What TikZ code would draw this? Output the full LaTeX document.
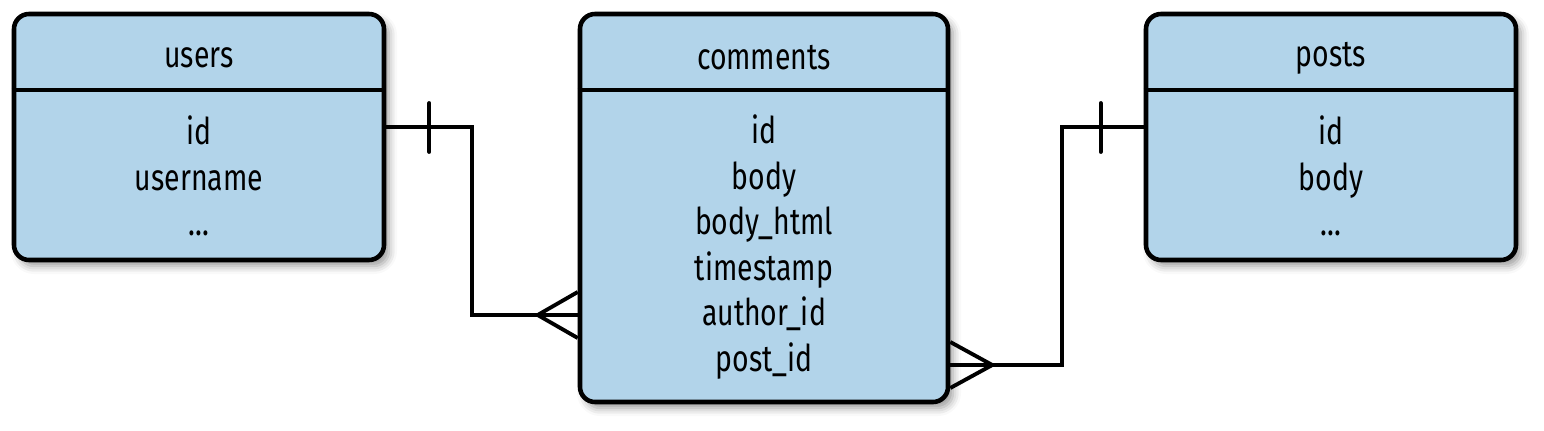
\documentclass[tikz,border=0pt]{standalone}
\usepackage{fontspec}
\setmainfont[FakeStretch=0.77]{Fira Sans}
\usepackage{tikz}
\usetikzlibrary{positioning,calc,shadows,shadows.blur}

\definecolor{tablefill}{HTML}{B2D4EA}

\begin{document}
\begin{tikzpicture}[
    table/.style={draw=black, line width=1.3pt, rounded corners=0.15cm, fill=tablefill, inner sep=0pt,
        blur shadow={shadow xshift=0.05cm, shadow yshift=-0.06cm, shadow blur radius=0.08cm}},
    divider/.style={black, line width=1.3pt},
    tabletext/.style={align=center, inner sep=0pt, font=\fontsize{10.5pt}{12.95pt}\selectfont},
    link/.style={black, line width=1.1pt, line cap=round}
]
    \useasboundingbox (0,0) rectangle (15.44,-4.30);

    % tables
    \node[table, minimum width=3.70cm, minimum height=2.46cm] at (1.99,-1.37) (users) {};
    \node[table, minimum width=3.68cm, minimum height=3.88cm] at (7.64,-2.08) (comments) {};
    \node[table, minimum width=3.70cm, minimum height=2.46cm] at (13.31,-1.37) (posts) {};

    \draw[divider] (users.west |- 0,-0.90) -- (users.east |- 0,-0.90);
    \draw[divider] (comments.west |- 0,-0.90) -- (comments.east |- 0,-0.90);
    \draw[divider] (posts.west |- 0,-0.90) -- (posts.east |- 0,-0.90);

    \node[tabletext] at (1.99,-0.58) (usersTitle) {users};
    \node[tabletext] at (7.64,-0.58) (commentsTitle) {comments};
    \node[tabletext] at (13.31,-0.58) (postsTitle) {posts};

    \node[tabletext] at (1.99,-1.76) (usersFields) {id\\username\\...};
    \node[tabletext] at (7.64,-2.47) (commentsFields) {id\\body\\body\_html\\timestamp\\author\_id\\post\_id};
    \node[tabletext] at (13.31,-1.76) (postsFields) {id\\body\\...};

    % relations
    \coordinate (usersOut) at ([yshift=0.10cm]users.east);
    \coordinate (commentsIn) at ([yshift=-1.07cm]comments.west);
    \coordinate (commentsOut) at ([yshift=-1.57cm]comments.east);
    \coordinate (postsIn) at ([yshift=0.10cm]posts.west);

    \draw[link, line cap=butt] (usersOut) -- ++(0.86,0) |- (commentsIn);
    \draw[link] ([xshift=0.43cm,yshift=0.24cm]usersOut) -- ++(0,-0.49);
    \draw[link, line cap=butt] ([yshift=0.23cm]commentsIn) -- ([xshift=-0.40cm]commentsIn) -- ([yshift=-0.23cm]commentsIn);

    \draw[link, line cap=butt] (commentsOut) -- ++(1.12,0) |- (postsIn);
    \draw[link] ([xshift=-0.43cm,yshift=0.24cm]postsIn) -- ++(0,-0.49);
    \draw[link, line cap=butt] ([yshift=0.23cm]commentsOut) -- ([xshift=0.42cm]commentsOut) -- ([yshift=-0.23cm]commentsOut);
\end{tikzpicture}
\end{document}
